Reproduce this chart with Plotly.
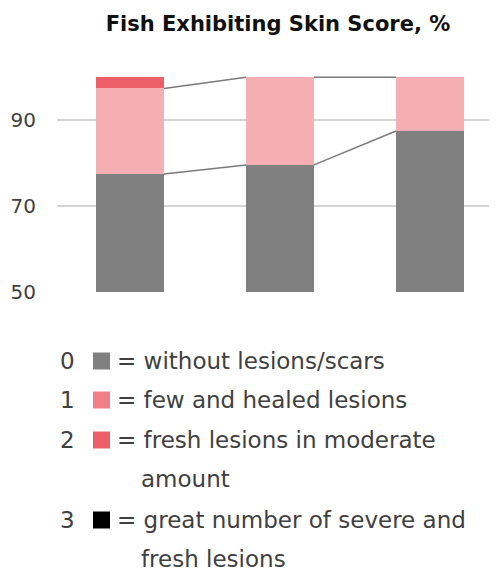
import plotly.graph_objects as go

# Skin score shares per group, %
groups = [0, 1, 2]
score0 = [77.5, 79.6, 87.5]   # without lesions/scars
score1 = [19.9, 20.4, 12.5]   # few and healed lesions
score2 = [2.6, 0.0, 0.0]      # fresh lesions in moderate amount
score3 = [0.0, 0.0, 0.0]      # great number of severe and fresh lesions

y_ticks = [50, 70, 90]

legend_nums = ["0", "1", "2", "3"]
legend_text = [["= without lesions/scars"],
               ["= few and healed lesions"],
               ["= fresh lesions in moderate", "amount"],
               ["= great number of severe and", "fresh lesions"]]

bar_colors = ["#808080", "#F5AEB2", "#EC5F69", "#000000"]
key_colors = ["#808080", "#F08085", "#EC5F69", "#000000"]
FONT = "DejaVu Sans"
TXT = "#404040"

# page body adds an 8px margin, so the figure is sized to the visible area
OFF = 8
W, H = 489, 564
L, R, T, B = 49, 0, 65, 280
bw = 0.453

fig = go.Figure()
for vals, col in zip([score0, score1, score2, score3], bar_colors):
    fig.add_trace(go.Bar(x=groups, y=vals, marker_color=col, marker_line_width=0,
                         width=bw, showlegend=False))

# series lines between bars (gray top and pink top)
cum0 = score0
cum1 = [a + b for a, b in zip(score0, score1)]
for cum in [cum0, cum1]:
    xs, ys = [], []
    for i in range(len(groups) - 1):
        xs += [groups[i] + bw / 2, groups[i + 1] - bw / 2, None]
        ys += [cum[i], cum[i + 1], None]
    fig.add_trace(go.Scatter(x=xs, y=ys, mode="lines", line=dict(color="#7a7a7a", width=1.5),
                             showlegend=False, hoverinfo="skip"))

pw, ph = W - L - R, H - T - B
def px(x):
    return (x - OFF - L) / pw
def py(y):
    return (H - B - (y - OFF)) / ph

rows_y = [361, 400, 440, 520]
for num, lines, col, yy in zip(legend_nums, legend_text, key_colors, rows_y):
    fig.add_annotation(x=px(58), y=py(yy), xref="paper", yref="paper", text=num,
                       showarrow=False, xanchor="left", yanchor="middle",
                       font=dict(family=FONT, size=23, color=TXT))
    fig.add_shape(type="rect", xref="paper", yref="paper", x0=px(93), x1=px(110),
                  y0=py(yy + 8.5), y1=py(yy - 8.5), fillcolor=col, line_width=0)
    for k, ln in enumerate(lines):
        fig.add_annotation(x=px(115 if k == 0 else 139), y=py(yy + 39 * k), xref="paper", yref="paper",
                           text=ln, showarrow=False, xanchor="left", yanchor="middle",
                           font=dict(family=FONT, size=23, color=TXT))

fig.update_layout(
    width=W, height=H,
    margin=dict(l=L, r=R, t=T, b=B, pad=0),
    barmode="stack",
    plot_bgcolor="white", paper_bgcolor="white",
    title=dict(text="<b>Fish Exhibiting Skin Score, %</b>", x=(278 - OFF) / W, xanchor="center",
               y=1 - (24 - OFF) / H, yanchor="middle", font=dict(family=FONT, size=21, color="#111111")),
    font=dict(family=FONT, color=TXT),
)
fig.update_xaxes(range=[-0.487, 2.447], showticklabels=False, showgrid=False,
                 zeroline=False, showline=False)
fig.update_yaxes(range=[50, 101], tickvals=y_ticks, showgrid=True, gridcolor="#d4d4d4",
                 gridwidth=1.5, zeroline=False, showline=False, ticklabelstandoff=20,
                 tickfont=dict(family=FONT, size=20, color=TXT))

fig.write_html("out.html")
